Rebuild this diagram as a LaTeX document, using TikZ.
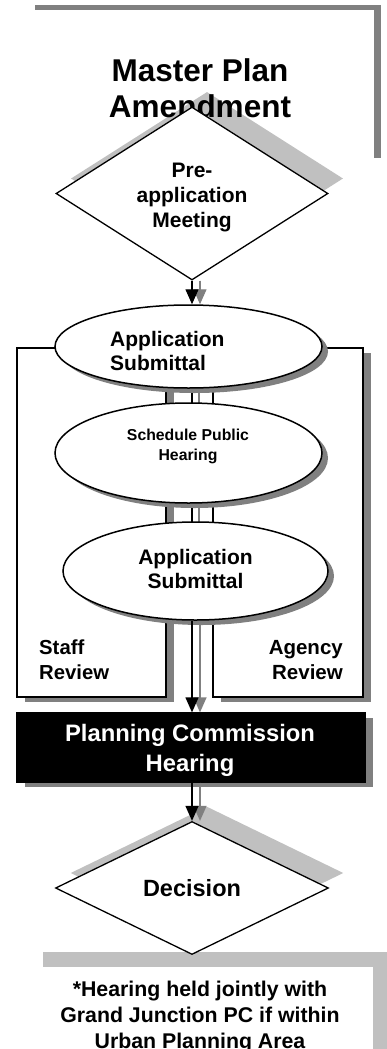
\documentclass[tikz,border=0pt]{standalone}
\usepackage{fontspec}
\setmainfont{Liberation Sans}
\usetikzlibrary{shapes.geometric,shadows,arrows.meta}
\definecolor{shdark}{HTML}{808080}
\definecolor{shlight}{HTML}{C0C0C0}
\begin{document}
\begin{tikzpicture}[x=1pt,y=-1pt,
  lbl/.style={font=\bfseries, inner sep=0pt, align=center},
  outl/.style={draw=black, line width=1.3pt, fill=white, inner sep=0pt},
  dia/.style={outl, diamond, copy shadow={shadow xshift=15pt, shadow yshift=15pt, fill=shlight, draw=none}},
  diaplain/.style={outl, diamond},
  diashadow/.style={diamond, fill=shlight, draw=none, inner sep=0pt},
  ell/.style={outl, ellipse, line width=1.5pt, copy shadow={shadow xshift=6pt, shadow yshift=-5pt, fill=shdark, draw=none}},
  rbox/.style={outl, rectangle, copy shadow={shadow xshift=8pt, shadow yshift=-5pt, fill=shdark, draw=none}},
  frame/.style={rectangle, fill=white, draw=none, inner sep=0pt},
  flow/.style={line width=1.3pt, -{Triangle[length=15pt,width=13pt]}},
  flowsh/.style={flow, draw=shdark, fill=shdark, transform canvas={xshift=8pt}},
  link/.style={line width=1.3pt},
  linksh/.style={link, draw=shdark, transform canvas={xshift=7pt}},
]
\useasboundingbox (0,0) rectangle (386,1049);
\fill[white] (0,0) rectangle (386,1049);

% text frames
\node[frame, minimum width=346pt, minimum height=153pt,
  copy shadow={shadow xshift=7pt, shadow yshift=5pt, fill=shdark, draw=none}] (topframe) at (201,86.5) {};
\node[frame, minimum width=345pt, minimum height=133pt,
  copy shadow={shadow xshift=15pt, shadow yshift=15pt, fill=shlight, draw=none}] (botframe) at (200.5,1033.5) {};

% shadow of the pre-application diamond lies under the title
\node[diashadow, minimum width=272pt, minimum height=173pt] (preshadow) at (207,178.5) {};

\node[lbl, font=\bfseries\fontsize{31.5}{36}\selectfont] (title) at (200,88.5) {Master Plan\\Amendment};
\node[lbl, font=\bfseries\fontsize{21.3}{26}\selectfont] (note) at (200,1017.5)
  {*Hearing held jointly with\\Grand Junction PC if within\\Urban Planning Area};

% pre-application diamond
\node[diaplain, minimum width=272pt, minimum height=173pt] (pre) at (192,193.5) {};
\node[lbl, font=\bfseries\fontsize{21}{25}\selectfont] (pret) at (192,197) {Pre-\\application\\Meeting};

% review boxes
\node[rbox, minimum width=149pt, minimum height=349pt] (staff) at (91.5,522.5) {};
\node[rbox, minimum width=150pt, minimum height=349pt] (agency) at (288,522.5) {};
\node[lbl, align=left, anchor=west, font=\bfseries\fontsize{20.3}{25}\selectfont] (stafft) at (39,660) {Staff\\Review};
\node[lbl, align=right, anchor=east, font=\bfseries\fontsize{20.5}{25}\selectfont] (agencyt) at (343,660) {Agency\\Review};

% decision diamond (drawn before its incoming arrow)
\node[dia, minimum width=273pt, minimum height=133pt] (dec) at (192,888) {};
\node[lbl, font=\bfseries\fontsize{23.5}{28}\selectfont] (dect) at (192,888.3) {Decision};

% coordinate of the flow axis
\coordinate (axis) at (pre.south);

% links between ellipses (behind them)
\draw[linksh] (axis |- 0,346.5) -- (axis |- 0,453);
\draw[linksh] (axis |- 0,453) -- (axis |- 0,571);
\draw[link] (axis |- 0,346.5) -- (axis |- 0,453);
\draw[link] (axis |- 0,453) -- (axis |- 0,571);

% ellipses
\node[ell, minimum width=267pt, minimum height=83pt] (e1) at (188.5,346.5) {};
\node[ell, minimum width=267pt, minimum height=100pt] (e2) at (188.5,453) {};
\node[ell, minimum width=265pt, minimum height=98pt] (e3) at (195.5,571) {};
\node[lbl, align=left, anchor=west, font=\bfseries\fontsize{21}{24}\selectfont] (e1t) at (110,350.5) {Application\\Submittal};
\node[lbl, font=\bfseries\fontsize{15.8}{20}\selectfont] (e2t) at (188,446) {Schedule Public\\Hearing};
\node[lbl, font=\bfseries\fontsize{21}{24}\selectfont] (e3t) at (195.5,568.5) {Application\\Submittal};

% planning commission box
\node[rbox, fill=black, minimum width=348pt, minimum height=69pt] (pc) at (191,747.5) {};
\node[lbl, text=white, font=\bfseries\fontsize{23.8}{30}\selectfont] (pct) at (190,750.7) {Planning Commission\\Hearing};

% arrows
\draw[flowsh] (axis) -- (axis |- e1.north);
\draw[flow] (axis) -- (axis |- e1.north);
\draw[flowsh] (axis |- e3.south) -- (axis |- pc.north);
\draw[flow] (axis |- e3.south) -- (axis |- pc.north);
\draw[flowsh] (axis |- pc.south) -- (dec.north);
\draw[flow] (axis |- pc.south) -- (dec.north);
\end{tikzpicture}
\end{document}
